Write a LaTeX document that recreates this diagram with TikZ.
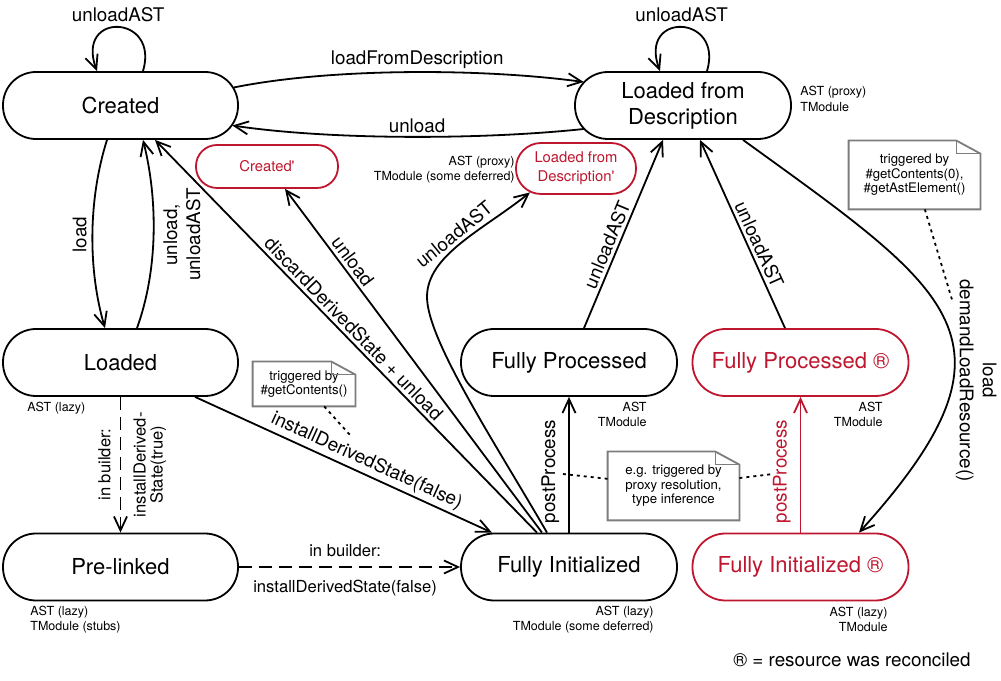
\documentclass[tikz,border=0pt]{standalone}
\usepackage{fontspec}
\setmainfont{TeX Gyre Heros}
\usepackage{tikz}
\usetikzlibrary{arrows.meta}
\definecolor{reconred}{RGB}{190,22,46}
\definecolor{notegray}{RGB}{125,125,125}
\newcommand{\fsize}[2]{\fontsize{#1}{#2}\selectfont}
\newcommand{\dogear}[1]{%
	\draw[noteline] (#1.north west) -- ([xshift=-12pt]#1.north east)
		-- ([yshift=-6.5pt]#1.north east) -- (#1.south east)
		-- (#1.south west) -- cycle;
	\draw[noteline] ([xshift=-12pt]#1.north east)
		-- ([xshift=-12pt, yshift=-6.5pt]#1.north east)
		-- ([yshift=-6.5pt]#1.north east);
}
\tikzset{>={Straight Barb[length=7pt, width=6.5pt]}}
\tikzset{
    state/.style={draw, line width=0.9pt, rounded corners=16.5pt,
    	minimum width=108pt, minimum height=33.5pt, inner sep=1pt,
    	align=center, font=\fsize{11}{13}},
    wide/.style={minimum width=117.5pt},
    reconciled/.style={draw=reconred, text=reconred},
    smallstate/.style={state, reconciled, font=\fsize{7.4}{9.5}},
    info/.style={inner sep=0pt, font=\fsize{6.25}{7.75}},
    note/.style={fill=white, inner sep=1pt, align=center,
    	font=\fsize{6.6}{7.2}},
    noteline/.style={draw=notegray, line width=0.9pt},
    trans/.style={->, line width=0.9pt},
    builder/.style={dash pattern=on 6.5pt off 3.5pt},
    hint/.style={line width=0.9pt, dash pattern=on 1.5pt off 2pt},
    edgelabel/.style={inner sep=1.5pt, font=\fsize{9.4}{11.5}},
    builderlabel/.style={font=\fsize{8.3}{8.5}, align=center}
}

\begin{document}
\begin{tikzpicture}[x=0.5pt, y=0.5pt]
	\useasboundingbox (0,0) rectangle (1001,680);

	\node (created) [state, wide] at (120.5,574.5) {Created};
	\node (lfd) [state] at (683,574.5) {\raisebox{-1.5pt}{Loaded from}\\\raisebox{-1.5pt}{Description}};
	\node (createdp) [smallstate, minimum width=71pt, minimum height=21.5pt, rounded corners=10.5pt] at (267,513.5) {Created\textquotesingle};
	\node (lfdp) [smallstate, minimum width=60pt, minimum height=25.5pt, rounded corners=12.5pt] at (576,511.5) {\raisebox{-1.5pt}{Loaded from}\\\raisebox{-1.5pt}{Description\textquotesingle}};
	\node (loaded) [state, wide] at (120.5,317.5) {Loaded};
	\node (fp) [state] at (569,317.5) {Fully Processed};
	\node (fpr) [state, reconciled] at (800.5,317.5) {Fully Processed ®};
	\node (prelinked) [state, wide] at (120.5,113) {Pre-linked};
	\node (fi) [state] at (569,113) {Fully Initialized};
	\node (fir) [state, reconciled] at (800.5,113) {Fully Initialized ®};

	\node (lfdinfo) [info, anchor=west, align=left] at (800,581) {AST (proxy)\\TModule};
	\node (lfdpinfo) [info, anchor=east, align=right] at (515,510.5) {AST (proxy)\\TModule (some deferred)};
	\node (loadedinfo) [info, anchor=west] at (27,272) {AST (lazy)};
	\node (fpinfo) [info, anchor=east, align=right] at (647,265.5) {AST\\TModule};
	\node (fprinfo) [info, anchor=east, align=right] at (883,265.5) {AST\\TModule};
	\node (prelinkedinfo) [info, anchor=west, align=left] at (30,60.5) {AST (lazy)\\TModule (stubs)};
	\node (fiinfo) [info, anchor=east, align=right] at (654,60.5) {AST (lazy)\\TModule (some deferred)};
	\node (firinfo) [info, anchor=east, align=right] at (888,60.5) {AST (lazy)\\TModule};
	\node (legend) [edgelabel, anchor=east] at (974,20) {® = resource was reconciled};

	% top row
	\draw[trans] ([xshift=11.25pt]created.north) .. controls +(17,57) and +(-22,60) .. ([xshift=-11.75pt]created.north) node[edgelabel, pos=0.5, above, inner sep=2pt] {unloadAST};
	\draw[trans] ([xshift=12pt]lfd.north) .. controls +(17,57) and +(-22,60) .. ([xshift=-11.5pt]lfd.north) node[edgelabel, pos=0.5, above, inner sep=2pt] {unloadAST};
	\draw[trans] ([xshift=-2.6pt, yshift=9pt]created.east) .. controls (330,612) and (480,612) .. ([xshift=4.8pt, yshift=11.75pt]lfd.west) node[edgelabel, pos=0.53, above] {loadFromDescription};
	\draw[trans] ([xshift=4.8pt, yshift=-11.75pt]lfd.west) .. controls (480,540) and (330,540) .. ([xshift=-3.3pt, yshift=-10pt]created.east) node[edgelabel, pos=0.47, above] {unload};

	% left column
	\draw[trans] ([xshift=-6.75pt]created.south) .. controls (88,480) and (88,410) .. ([xshift=-7.75pt]loaded.north) node[edgelabel, pos=0.5, rotate=90, anchor=south, inner sep=2.5pt] {load};
	\draw[trans] ([xshift=8.25pt]loaded.north) .. controls (158,410) and (158,480) .. ([xshift=11.25pt]created.south) node[edgelabel, pos=0.5, rotate=90, anchor=north, align=center, inner sep=4.5pt] {unload,\\unloadAST};
	\draw[trans, builder] (loaded) -- (prelinked)
		node[builderlabel, pos=0.5, rotate=90, anchor=south, inner sep=4.5pt] {in builder:}
		node[builderlabel, pos=0.5, rotate=90, anchor=north, inner sep=6pt] {installDerived-\\State(true)};
	\draw[trans, builder] (prelinked) -- (fi)
		node[builderlabel, pos=0.48, above, inner sep=4.5pt] {in builder:}
		node[builderlabel, pos=0.48, below, inner sep=6pt] {installDerivedState(false)};
	\draw[trans] ([xshift=37.25pt]loaded.south) -- ([xshift=-38.5pt]fi.north) node[edgelabel, pos=0.56, sloped, above] {installDerivedState(false)};

	% out of fully initialized
	\draw[trans] ([xshift=-16pt]fi.north) -- ([xshift=17.25pt]created.south) node[edgelabel, pos=0.5, sloped, above] {discardDerivedState + unload};
	\draw[trans] ([xshift=-13.5pt]fi.north) -- ([xshift=9pt]createdp.south) node[edgelabel, pos=0.77, sloped, above] {unload};
	\draw[trans] ([xshift=-11pt]fi.north) .. controls (497,234) and (427,340) .. (427,383) .. controls (427,425) and (483,450) .. ([xshift=-23pt, yshift=1.25pt]lfdp.south) node[edgelabel, pos=0.5, sloped, above] {unloadAST};
	\draw[trans] (fi) -- (fp) node[edgelabel, pos=0.45, rotate=90, anchor=south, inner sep=4.5pt] {postProcess};
	\draw[trans, reconred] (fir) -- (fpr) node[edgelabel, pos=0.45, rotate=90, anchor=south, inner sep=4.5pt] {postProcess};

	% back to loaded from description
	\draw[trans] ([xshift=7.5pt]fp.north) -- ([xshift=-10pt]lfd.south) node[edgelabel, pos=0.42, sloped, above] {unloadAST};
	\draw[trans] ([xshift=-7.75pt]fpr.north) -- ([xshift=8.5pt]lfd.south) node[edgelabel, pos=0.42, sloped, above] {unloadAST};
	\draw[trans] ([xshift=30pt]lfd.south) .. controls (953.6,387.6) and (1033,340) .. ([xshift=29.25pt]fir.north) node[edgelabel, pos=0.67, rotate=-90, anchor=south, align=center, inner sep=1pt] {load\\demandLoadResource()};

	% notes
	\node (trigload) [note, minimum width=65.5pt, minimum height=34pt] at (914.5,505) {triggered by\\\#getContents(0),\\\#getAstElement()};
	\node (trigderived) [note, minimum width=51pt, minimum height=22pt] at (304,296) {triggered by\\\#getContents()};
	\node (trigproc) [note, minimum width=65.5pt, minimum height=34pt] at (673.5,194) {e.g. triggered by\\proxy resolution,\\type inference};
	\dogear{trigload}
	\dogear{trigderived}
	\dogear{trigproc}

	\coordinate (trigloadend) at (953,377);
	\coordinate (trigderivedend) at (350,245);
	\coordinate (procleft) at (563,206);
	\coordinate (procright) at (773,206);
	\draw[hint] (trigload) -- (trigloadend);
	\draw[hint] (trigderived) -- (trigderivedend);
	\draw[hint] (trigproc) -- (procleft);
	\draw[hint] (trigproc) -- (procright);
\end{tikzpicture}
\end{document}
